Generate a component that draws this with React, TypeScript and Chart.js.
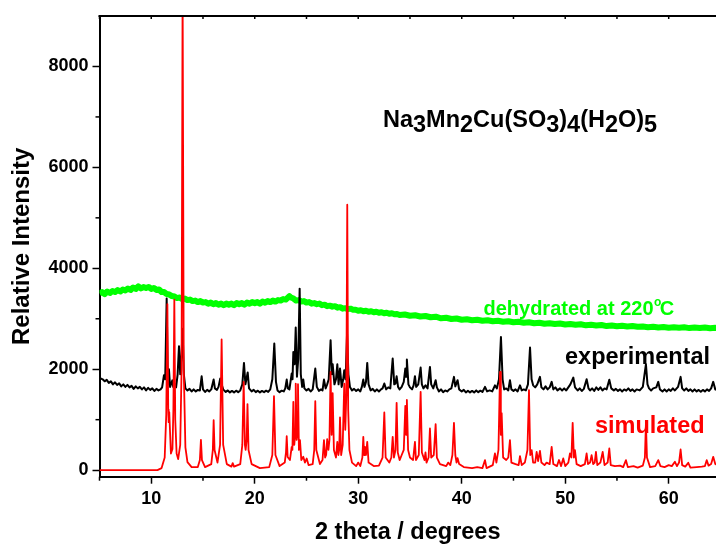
import React, { useEffect, useRef } from "react";
import { Chart, registerables } from "chart.js";

Chart.register(...registerables);

// ---------- data ----------
const xRange = [5, 64.57];
const yRange = [-130, 9000];
const xTickValues = [5, 10, 15, 20, 25, 30, 35, 40, 45, 50, 55, 60];
const yTickValues = [0, 1000, 2000, 3000, 4000, 5000, 6000, 7000, 8000];

const simulated: number[][] = [
  [5, 0], [10.6, 0], [11.0, 40], [11.3, 250], [11.45, 1100], [11.56, 3290], [11.64, 1200], [11.68, 950], [11.74, 1150],
  [11.9, 330], [12.05, 420], [12.14, 1200], [12.23, 3380], [12.32, 1000], [12.45, 330], [12.6, 220], [12.8, 500],
  [12.93, 2000], [13.03, 9600], [13.14, 2000], [13.3, 450], [13.5, 160], [13.9, 60], [14.5, 60], [14.7, 200],
  [14.8, 600], [14.9, 200], [15.2, 60], [15.8, 120], [15.95, 400], [16.03, 990], [16.12, 400], [16.4, 150],
  [16.65, 500], [16.8, 2590], [16.95, 500], [17.3, 120], [17.75, 70], [17.87, 140], [18.0, 70], [18.6, 120],
  [18.8, 500], [18.93, 1750], [19.05, 500], [19.12, 400], [19.22, 600], [19.3, 1310], [19.4, 400], [19.7, 120],
  [20.5, 40], [21.4, 60], [21.7, 300], [21.86, 1465], [22.0, 300], [22.4, 80], [22.9, 150], [23.02, 350],
  [23.09, 673], [23.18, 260], [23.4, 200], [23.57, 462], [23.64, 400], [23.73, 1353], [23.82, 500], [23.9, 700],
  [23.96, 1716], [24.05, 600], [24.1, 700], [24.18, 1703], [24.27, 400], [24.37, 594], [24.5, 200], [24.69, 264],
  [24.85, 150], [25.02, 231], [25.2, 100], [25.6, 120], [25.75, 400], [25.85, 1366], [25.95, 400], [26.3, 120],
  [26.55, 200], [26.69, 594], [26.8, 250], [26.9, 300], [27.0, 614], [27.12, 400], [27.22, 600], [27.33, 1947],
  [27.43, 700], [27.53, 1525], [27.65, 400], [27.85, 250], [27.98, 561], [28.08, 300], [28.16, 400], [28.24, 1043],
  [28.35, 300], [28.5, 500], [28.65, 1716], [28.75, 800], [28.85, 1500], [28.94, 5260], [29.03, 1200], [29.15, 400],
  [29.4, 150], [29.8, 80], [30.0, 150], [30.2, 80], [30.4, 250], [30.49, 660], [30.57, 300], [30.65, 462],
  [30.75, 300], [30.87, 561], [31.0, 150], [31.5, 80], [32.0, 90], [32.35, 250], [32.52, 1142], [32.65, 250],
  [33.0, 150], [33.2, 250], [33.33, 660], [33.45, 250], [33.6, 400], [33.71, 1333], [33.82, 350], [34.0, 200],
  [34.2, 300], [34.4, 400], [34.55, 1274], [34.62, 700], [34.7, 1390], [34.82, 400], [35.0, 250], [35.3, 200],
  [35.48, 561], [35.58, 200], [35.85, 300], [36.03, 1551], [36.15, 350], [36.4, 200], [36.5, 350], [36.6, 150],
  [36.8, 250], [36.93, 825], [37.05, 250], [37.3, 300], [37.48, 911], [37.6, 250], [37.9, 120], [38.5, 80],
  [38.7, 150], [38.9, 100], [39.1, 300], [39.25, 937], [39.38, 300], [39.5, 150], [39.6, 238], [39.75, 120],
  [40.2, 60], [41.0, 40], [41.5, 60], [42.0, 40], [42.25, 198], [42.4, 40], [43.0, 100], [43.21, 330],
  [43.35, 150], [43.55, 400], [43.7, 1947], [43.78, 700], [43.86, 1129], [44.0, 250], [44.3, 200], [44.5, 250],
  [44.66, 594], [44.8, 150], [45.2, 120], [45.5, 100], [45.63, 277], [45.8, 100], [46.1, 150], [46.35, 400],
  [46.5, 1584], [46.62, 300], [46.76, 396], [46.9, 150], [47.1, 150], [47.24, 363], [47.38, 180], [47.56, 383],
  [47.7, 150], [48.0, 100], [48.2, 150], [48.5, 120], [48.69, 462], [48.85, 120], [49.2, 80], [49.4, 200],
  [49.6, 80], [49.81, 231], [50.0, 80], [50.3, 150], [50.46, 330], [50.6, 250], [50.72, 937], [50.84, 250],
  [50.94, 396], [51.1, 120], [51.5, 80], [51.9, 120], [52.07, 330], [52.2, 120], [52.4, 150], [52.55, 297],
  [52.7, 120], [52.85, 150], [52.97, 363], [53.1, 100], [53.4, 150], [53.62, 363], [53.8, 100], [54.1, 150],
  [54.26, 429], [54.4, 100], [54.8, 80], [55.3, 90], [55.6, 60], [55.87, 198], [56.05, 60], [56.6, 80],
  [57.0, 50], [57.5, 90], [57.7, 250], [57.8, 937], [57.9, 250], [58.2, 60], [58.7, 80], [58.99, 198],
  [59.2, 80], [59.6, 60], [60.0, 100], [60.3, 80], [60.6, 165], [60.8, 80], [61.0, 150], [61.15, 409],
  [61.3, 100], [61.6, 70], [61.89, 145], [62.1, 50], [62.7, 60], [63.2, 70], [63.5, 80], [63.67, 198],
  [63.85, 90], [64.1, 120], [64.3, 264], [64.5, 120], [65, 80],
];

const experimental: number[][] = [
  [5.1, 1820], [5.3, 1800], [5.5, 1760], [5.7, 1790], [5.9, 1730], [6.1, 1760], [6.3, 1700], [6.5, 1740],
  [6.7, 1690], [6.9, 1720], [7.1, 1660], [7.3, 1700], [7.5, 1650], [7.7, 1690], [7.9, 1640], [8.1, 1670],
  [8.3, 1610], [8.5, 1660], [8.7, 1620], [8.9, 1650], [9.1, 1600], [9.3, 1640], [9.5, 1580], [9.7, 1630],
  [9.9, 1590], [10.1, 1620], [10.3, 1570], [10.5, 1610], [10.7, 1580], [10.9, 1600], [11.05, 1640], [11.23, 1880],
  [11.35, 1800], [11.49, 3400], [11.6, 1700], [11.71, 2000], [11.82, 1650], [12.04, 1780], [12.12, 1650],
  [12.23, 1720], [12.4, 1640], [12.55, 1900], [12.68, 2455], [12.8, 1900], [12.93, 2300], [13.03, 2800],
  [13.15, 1900], [13.3, 1620], [13.5, 1580], [13.7, 1610], [13.9, 1560], [14.1, 1600], [14.3, 1560], [14.5, 1590],
  [14.7, 1580], [14.87, 1860], [15.0, 1600], [15.2, 1550], [15.4, 1590], [15.6, 1560], [15.8, 1600], [16.03, 1795],
  [16.15, 1620], [16.35, 1590], [16.5, 1650], [16.67, 1815], [16.8, 1700], [16.95, 1600], [17.2, 1550], [17.4, 1580],
  [17.6, 1540], [17.8, 1570], [18.0, 1540], [18.2, 1575], [18.4, 1545], [18.6, 1580], [18.8, 1700], [18.96, 2125],
  [19.1, 1700], [19.32, 1934], [19.45, 1620], [19.7, 1560], [19.9, 1590], [20.1, 1545], [20.3, 1575], [20.5, 1540],
  [20.7, 1570], [20.9, 1545], [21.1, 1575], [21.3, 1550], [21.5, 1600], [21.7, 1800], [21.89, 2508], [22.05, 1750],
  [22.2, 1580], [22.4, 1545], [22.6, 1575], [22.8, 1560], [22.95, 1620], [23.09, 1795], [23.2, 1620], [23.35, 1600],
  [23.57, 1914], [23.65, 1800], [23.73, 2343], [23.85, 2100], [23.96, 2825], [24.08, 1850], [24.2, 2200],
  [24.34, 3597], [24.45, 1900], [24.58, 1650], [24.69, 1795], [24.8, 1620], [25.0, 1580], [25.2, 1610], [25.4, 1560],
  [25.6, 1600], [25.85, 2013], [26.0, 1650], [26.2, 1570], [26.4, 1600], [26.55, 1580], [26.69, 1795], [26.85, 1620],
  [27.0, 1700], [27.15, 1800], [27.33, 2574], [27.45, 1900], [27.53, 2100], [27.7, 1700], [27.85, 1800], [27.98, 2099],
  [28.1, 1700], [28.24, 2013], [28.4, 1650], [28.55, 1800], [28.65, 1980], [28.78, 1800], [28.92, 2700], [29.05, 1900],
  [29.2, 1650], [29.4, 1580], [29.6, 1610], [29.8, 1570], [30.0, 1600], [30.2, 1560], [30.35, 1650], [30.49, 1795],
  [30.6, 1650], [30.75, 1750], [30.87, 2125], [31.0, 1700], [31.2, 1580], [31.4, 1610], [31.6, 1560], [31.8, 1600],
  [32.0, 1560], [32.2, 1600], [32.35, 1620], [32.52, 1716], [32.7, 1600], [32.9, 1640], [33.1, 1620], [33.33, 2211],
  [33.48, 1700], [33.6, 1720], [33.71, 1860], [33.85, 1650], [34.0, 1600], [34.2, 1650], [34.4, 1750], [34.55, 2013],
  [34.62, 1850], [34.7, 2191], [34.85, 1700], [35.0, 1640], [35.2, 1600], [35.35, 1680], [35.48, 1861], [35.6, 1650],
  [35.8, 1700], [36.03, 2033], [36.15, 1700], [36.3, 1620], [36.5, 1680], [36.7, 1620], [36.93, 2046], [37.05, 1700],
  [37.25, 1620], [37.48, 1782], [37.6, 1640], [37.8, 1560], [38.0, 1600], [38.2, 1545], [38.4, 1580], [38.6, 1560],
  [38.8, 1600], [39.0, 1620], [39.25, 1848], [39.38, 1660], [39.6, 1782], [39.75, 1600], [40.0, 1560], [40.2, 1590],
  [40.4, 1540], [40.6, 1575], [40.8, 1540], [41.0, 1570], [41.2, 1540], [41.4, 1580], [41.6, 1545], [41.8, 1575],
  [42.0, 1550], [42.25, 1650], [42.45, 1560], [42.7, 1580], [42.95, 1560], [43.21, 1680], [43.4, 1620], [43.6, 1800],
  [43.79, 2640], [43.95, 1800], [44.1, 1600], [44.3, 1620], [44.5, 1580], [44.66, 1782], [44.8, 1600], [45.0, 1570],
  [45.2, 1600], [45.4, 1560], [45.63, 1680], [45.8, 1580], [46.0, 1600], [46.2, 1580], [46.4, 1700], [46.6, 2429],
  [46.75, 1800], [46.9, 1680], [47.1, 1640], [47.3, 1700], [47.56, 1848], [47.7, 1640], [47.9, 1600], [48.1, 1660],
  [48.3, 1600], [48.5, 1640], [48.69, 1750], [48.85, 1600], [49.05, 1640], [49.25, 1580], [49.5, 1620], [49.7, 1580],
  [49.9, 1620], [50.1, 1580], [50.3, 1640], [50.5, 1700], [50.78, 1835], [50.95, 1640], [51.2, 1580], [51.4, 1620],
  [51.6, 1570], [51.8, 1610], [52.07, 1800], [52.25, 1620], [52.4, 1580], [52.6, 1620], [52.8, 1570], [53.0, 1640],
  [53.2, 1590], [53.4, 1640], [53.6, 1580], [53.8, 1620], [54.0, 1600], [54.26, 1790], [54.45, 1620], [54.7, 1580],
  [54.9, 1610], [55.1, 1570], [55.3, 1600], [55.5, 1560], [55.7, 1600], [55.9, 1575], [56.1, 1620], [56.3, 1570],
  [56.5, 1600], [56.7, 1560], [56.9, 1600], [57.2, 1580], [57.5, 1650], [57.8, 2099], [57.95, 1700], [58.1, 1620],
  [58.3, 1580], [58.5, 1620], [58.8, 1640], [58.99, 1750], [59.15, 1600], [59.4, 1560], [59.6, 1600], [59.8, 1560],
  [60.0, 1600], [60.2, 1570], [60.4, 1620], [60.6, 1580], [60.9, 1650], [61.15, 1848], [61.3, 1620], [61.5, 1580],
  [61.7, 1620], [61.9, 1570], [62.1, 1600], [62.3, 1560], [62.5, 1600], [62.7, 1560], [62.9, 1590], [63.1, 1555],
  [63.3, 1590], [63.5, 1560], [63.7, 1600], [63.9, 1570], [64.1, 1620], [64.3, 1750], [64.5, 1600], [64.7, 1580],
];

const dehydrated: number[][] = [
  [5.0, 3500], [5.25, 3530], [5.5, 3490], [5.75, 3540], [6.0, 3510], [6.25, 3550], [6.5, 3530], [6.75, 3570],
  [7.0, 3540], [7.25, 3580], [7.5, 3560], [7.75, 3600], [8.0, 3570], [8.25, 3620], [8.5, 3590], [8.75, 3640],
  [9.0, 3600], [9.25, 3630], [9.5, 3610], [9.75, 3630], [10.0, 3590], [10.25, 3610], [10.5, 3570], [10.75, 3580],
  [11.0, 3530], [11.25, 3530], [11.5, 3490], [11.75, 3480], [12.0, 3450], [12.25, 3440], [12.5, 3410], [12.75, 3420],
  [13.0, 3390], [13.25, 3400], [13.5, 3370], [13.75, 3380], [14.0, 3350], [14.25, 3360], [14.5, 3330], [14.75, 3350],
  [15.0, 3320], [15.25, 3330], [15.5, 3300], [15.75, 3320], [16.0, 3290], [16.25, 3310], [16.5, 3280], [16.75, 3300],
  [17.0, 3270], [17.25, 3300], [17.5, 3280], [17.75, 3300], [18.0, 3270], [18.25, 3310], [18.5, 3290], [18.75, 3310],
  [19.0, 3280], [19.25, 3320], [19.5, 3300], [19.75, 3330], [20.0, 3310], [20.25, 3330], [20.5, 3300], [20.75, 3340],
  [21.0, 3320], [21.25, 3350], [21.5, 3330], [21.75, 3360], [22.0, 3340], [22.25, 3370], [22.5, 3360], [22.75, 3390],
  [23.0, 3380], [23.2, 3420], [23.35, 3450], [23.5, 3420], [23.75, 3400], [24.0, 3360], [24.25, 3370], [24.5, 3340],
  [24.75, 3350], [25.0, 3320], [25.25, 3330], [25.5, 3300], [25.75, 3310], [26.0, 3290], [26.25, 3300], [26.5, 3270],
  [26.75, 3280], [27.0, 3250], [27.25, 3260], [27.5, 3240], [27.75, 3250], [28.0, 3220], [28.25, 3230], [28.5, 3200],
  [28.75, 3210], [29.0, 3190], [29.25, 3200], [29.5, 3180], [29.75, 3180], [30.0, 3160], [30.25, 3170], [30.5, 3150],
  [30.75, 3160], [31.0, 3140], [31.25, 3150], [31.5, 3130], [31.75, 3140], [32.0, 3120], [32.25, 3130], [32.5, 3110],
  [32.75, 3120], [33.0, 3100], [33.25, 3110], [33.5, 3090], [33.75, 3095], [34.0, 3075], [34.5, 3085], [35.0, 3060],
  [35.5, 3070], [36.0, 3045], [36.5, 3055], [37.0, 3030], [37.5, 3040], [38.0, 3010], [38.5, 3020], [39.0, 2995],
  [39.5, 3005], [40.0, 2980], [40.5, 2990], [41.0, 2970], [41.5, 2980], [42.0, 2960], [42.5, 2970], [43.0, 2950],
  [43.5, 2960], [44.0, 2940], [44.5, 2950], [45.0, 2930], [45.5, 2940], [46.0, 2920], [46.5, 2930], [47.0, 2910],
  [47.5, 2920], [48.0, 2900], [48.5, 2910], [49.0, 2895], [49.5, 2905], [50.0, 2885], [50.5, 2895], [51.0, 2880],
  [51.5, 2890], [52.0, 2870], [52.5, 2880], [53.0, 2865], [53.5, 2875], [54.0, 2855], [54.5, 2865], [55.0, 2850],
  [55.5, 2860], [56.0, 2845], [56.5, 2855], [57.0, 2840], [57.5, 2845], [58.0, 2830], [58.5, 2840], [59.0, 2825],
  [59.5, 2835], [60.0, 2820], [60.5, 2830], [61.0, 2820], [61.5, 2830], [62.0, 2815], [62.5, 2825], [63.0, 2815],
  [63.5, 2825], [64.0, 2812], [64.5, 2820], [65.0, 2810],
];

const seriesNames = ["simulated", "experimental", "dehydrated at 220"];
const formulaParts: [string, boolean][] = [
  ["Na", false], ["3", true], ["Mn", false], ["2", true], ["Cu(SO", false], ["3", true],
  [")", false], ["4", true], ["(H", false], ["2", true], ["O)", false], ["5", true],
];
// label anchors in data units [x, y]
const formulaAnchor = [32.39, 6791];
const dehydratedAnchor = [42.1, 3069];
const experimentalAnchor = [49.98, 2099];
const simulatedAnchor = [52.87, 733];

const FONT = "'Liberation Sans', Arial, Helvetica, sans-serif";
const RED = "#ff0000";
const GREEN = "#00ff00";

const decorPlugin = {
  id: "decor",
  afterDraw(chart: any) {
    const { ctx, chartArea, scales } = chart;
    const xs = scales.x;
    const ys = scales.y;
    ctx.save();
    // top frame
    ctx.strokeStyle = "#000";
    ctx.lineWidth = 2;
    ctx.beginPath();
    ctx.moveTo(chartArea.left - 1, chartArea.top);
    ctx.lineTo(chartArea.right, chartArea.top);
    ctx.stroke();
    ctx.lineWidth = 1.5;
    for (const v of xTickValues) {
      const px = xs.getPixelForValue(v);
      ctx.beginPath();
      ctx.moveTo(px, chartArea.top);
      ctx.lineTo(px, chartArea.top + 3);
      ctx.stroke();
      if (v % 10 !== 0) {
        ctx.beginPath();
        ctx.moveTo(px, chartArea.bottom);
        ctx.lineTo(px, chartArea.bottom + 4);
        ctx.stroke();
      }
    }
    for (const v of yTickValues) {
      if (v % 2000 !== 0) {
        const py = ys.getPixelForValue(v);
        ctx.beginPath();
        ctx.moveTo(chartArea.left, py);
        ctx.lineTo(chartArea.left - 4, py);
        ctx.stroke();
      }
    }

    ctx.textBaseline = "alphabetic";
    ctx.textAlign = "left";
    // formula
    let fx = xs.getPixelForValue(formulaAnchor[0]);
    const fy = ys.getPixelForValue(formulaAnchor[1]);
    ctx.fillStyle = "#000";
    ctx.font = `bold 23.5px ${FONT}`;
    for (const [t, sub] of formulaParts) {
      ctx.fillText(t, fx, sub ? fy + 5 : fy);
      fx += ctx.measureText(t).width;
    }
    // dehydrated
    let dx = xs.getPixelForValue(dehydratedAnchor[0]);
    const dy = ys.getPixelForValue(dehydratedAnchor[1]);
    ctx.fillStyle = GREEN;
    ctx.font = `bold 20px ${FONT}`;
    ctx.fillText(seriesNames[2], dx, dy);
    dx += ctx.measureText(seriesNames[2]).width + 0.5;
    ctx.font = `bold 12px ${FONT}`;
    ctx.fillText("o", dx, dy - 9);
    dx += ctx.measureText("o").width - 1.5;
    ctx.font = `bold 20px ${FONT}`;
    ctx.fillText("C", dx, dy);
    // experimental
    ctx.fillStyle = "#000";
    ctx.font = `bold 23.5px ${FONT}`;
    ctx.fillText(seriesNames[1], xs.getPixelForValue(experimentalAnchor[0]), ys.getPixelForValue(experimentalAnchor[1]));
    // simulated
    ctx.fillStyle = RED;
    ctx.fillText(seriesNames[0], xs.getPixelForValue(simulatedAnchor[0]), ys.getPixelForValue(simulatedAnchor[1]));
    ctx.restore();
  },
};

export default function App() {
  const ref = useRef<HTMLCanvasElement | null>(null);
  useEffect(() => {
    if (!ref.current) return;
    const toXY = (arr: number[][]) => arr.map(([x, y]) => ({ x, y }));
    const chart = new Chart(ref.current, {
      type: "line",
      data: {
        datasets: [
          { label: seriesNames[0], data: toXY(simulated), borderColor: RED, borderWidth: 1.8, pointRadius: 0, tension: 0 },
          { label: seriesNames[1], data: toXY(experimental), borderColor: "#000", borderWidth: 2, pointRadius: 0, tension: 0 },
          { label: seriesNames[2], data: toXY(dehydrated), borderColor: GREEN, borderWidth: 6, pointRadius: 0, tension: 0 },
        ],
      } as any,
      options: {
        animation: false,
        responsive: false,
        devicePixelRatio: 1,
        layout: { padding: { top: 16, right: 0, left: 0, bottom: 0 } },
        plugins: { legend: { display: false }, tooltip: { enabled: false } },
        elements: { line: { borderJoinStyle: "round" } },
        scales: {
          x: {
            type: "linear",
            min: xRange[0],
            max: xRange[1],
            afterBuildTicks: (s: any) => { s.ticks = xTickValues.map((value) => ({ value })); },
            afterFit: (s: any) => { s.height = 73.3; },
            grid: {
              drawOnChartArea: false,
              tickLength: 7,
              tickWidth: 1.5,
              tickColor: (c: any) => (c.tick && c.tick.value % 10 === 0 ? "#000" : "rgba(0,0,0,0)"),
            },
            border: { display: true, color: "#000", width: 2 },
            ticks: {
              autoSkip: false,
              maxRotation: 0,
              padding: 5,
              color: "#000",
              font: { family: FONT, size: 18, weight: "bold" },
              callback: (v: any) => (Number(v) % 10 === 0 ? String(v) : ""),
            },
            title: {
              display: true,
              text: "2 theta / degrees",
              color: "#000",
              font: { family: FONT, size: 23.5, weight: "bold" },
              padding: { top: 0, bottom: 3 },
            },
          },
          y: {
            type: "linear",
            min: yRange[0],
            max: yRange[1],
            afterBuildTicks: (s: any) => { s.ticks = yTickValues.map((value) => ({ value })); },
            afterFit: (s: any) => { s.width = 99.5; },
            grid: {
              drawOnChartArea: false,
              tickLength: 7,
              tickWidth: 1.5,
              tickColor: (c: any) => (c.tick && c.tick.value % 2000 === 0 ? "#000" : "rgba(0,0,0,0)"),
            },
            border: { display: true, color: "#000", width: 2 },
            ticks: {
              autoSkip: false,
              padding: 4,
              color: "#000",
              font: { family: FONT, size: 18, weight: "bold" },
              callback: (v: any) => (Number(v) % 2000 === 0 ? String(v) : ""),
            },
            title: {
              display: true,
              text: "Relative Intensity",
              color: "#000",
              font: { family: FONT, size: 24, weight: "bold" },
              padding: { top: 8, bottom: 0 },
            },
          },
        },
      } as any,
      plugins: [decorPlugin],
    });
    return () => chart.destroy();
  }, []);
  return (
    <div style={{ position: "absolute", left: 0, top: 0, width: 716, height: 550 }}>
      <canvas ref={ref} width={716} height={550} style={{ width: 716, height: 550 }} />
    </div>
  );
}
